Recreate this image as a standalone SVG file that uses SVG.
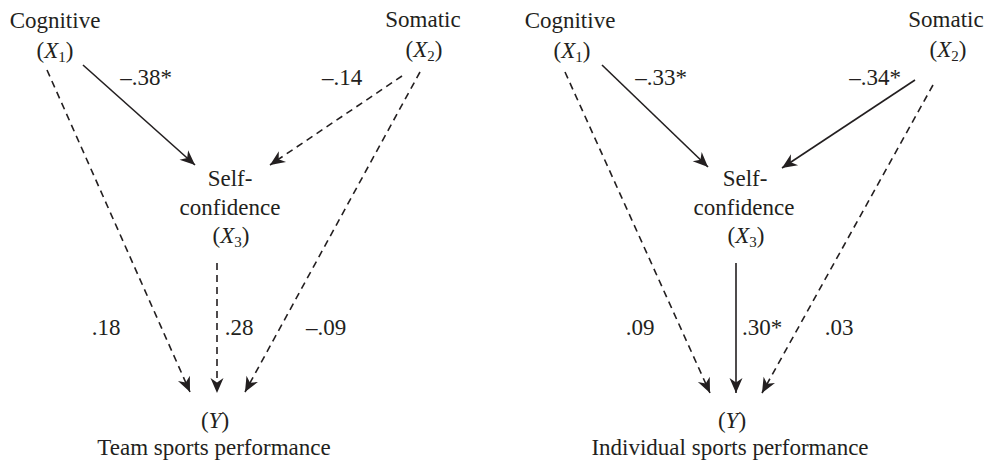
<svg xmlns="http://www.w3.org/2000/svg" width="992" height="465" viewBox="0 0 992 465">
<style>
text{font-family:'Liberation Serif','Times New Roman',Times,serif;font-size:23px;fill:#231f20;text-anchor:middle}
.i{font-style:italic}
.s{font-size:15px}
.ln{stroke:#231f20;stroke-width:1.6;fill:none}
.d{stroke-dasharray:7 5}
</style>
<defs>
<marker id="ah" markerUnits="userSpaceOnUse" markerWidth="20" markerHeight="16" viewBox="-16 -8 18 16" refX="0" refY="0" orient="auto">
<path d="M0,0 L-15,-6.5 L-10.5,0 L-15,6.5 Z" fill="#231f20"/>
</marker>
</defs>
<rect width="992" height="465" fill="#fff"/>
<g id="connectors">
<line class="ln" x1="83" y1="65" x2="195" y2="165" marker-end="url(#ah)"/>
<line class="ln d" x1="402" y1="76" x2="270" y2="165" marker-end="url(#ah)"/>
<line class="ln d" x1="47" y1="70" x2="190" y2="392" marker-end="url(#ah)"/>
<line class="ln d" x1="420" y1="72" x2="245" y2="392" marker-end="url(#ah)"/>
<line class="ln d" x1="217" y1="263" x2="217" y2="393" marker-end="url(#ah)"/>
<line class="ln" x1="602" y1="65" x2="708" y2="167" marker-end="url(#ah)"/>
<line class="ln" x1="915" y1="80" x2="782" y2="168" marker-end="url(#ah)"/>
<line class="ln d" x1="565" y1="72" x2="710" y2="393" marker-end="url(#ah)"/>
<line class="ln d" x1="933" y1="85" x2="762" y2="393" marker-end="url(#ah)"/>
<line class="ln" x1="736" y1="263" x2="736" y2="393" marker-end="url(#ah)"/>
</g>
<g id="labels">
<text x="146" y="85">–.38*</text>
<text x="342" y="85">–.14</text>
<text x="106" y="335">.18</text>
<text x="239" y="335">.28</text>
<text x="326" y="335">–.09</text>
<text x="661" y="85">–.33*</text>
<text x="875" y="85">–.34*</text>
<text x="640" y="335">.09</text>
<text x="762" y="335">.30*</text>
<text x="839" y="335">.03</text>
</g>
<g id="L-cognitive">
<text x="55" y="28">Cognitive</text>
<text x="55" y="58">(<tspan class="i">X</tspan><tspan class="s" dy="4">1</tspan><tspan dy="-4">)</tspan></text>
</g>
<g id="L-somatic">
<text x="423" y="27">Somatic</text>
<text x="424" y="57">(<tspan class="i">X</tspan><tspan class="s" dy="4">2</tspan><tspan dy="-4">)</tspan></text>
</g>
<g id="L-selfconfidence">
<text x="230" y="186">Self-</text>
<text x="230" y="215">confidence</text>
<text x="231" y="243">(<tspan class="i">X</tspan><tspan class="s" dy="4">3</tspan><tspan dy="-4">)</tspan></text>
</g>
<g id="L-Y">
<text x="215" y="428">(<tspan class="i">Y</tspan>)</text>
<text x="214" y="455">Team sports performance</text>
</g>
<g id="R-cognitive">
<text x="570" y="28">Cognitive</text>
<text x="572" y="58">(<tspan class="i">X</tspan><tspan class="s" dy="4">1</tspan><tspan dy="-4">)</tspan></text>
</g>
<g id="R-somatic">
<text x="946" y="27">Somatic</text>
<text x="948" y="57">(<tspan class="i">X</tspan><tspan class="s" dy="4">2</tspan><tspan dy="-4">)</tspan></text>
</g>
<g id="R-selfconfidence">
<text x="745" y="186">Self-</text>
<text x="744" y="215">confidence</text>
<text x="746" y="243">(<tspan class="i">X</tspan><tspan class="s" dy="4">3</tspan><tspan dy="-4">)</tspan></text>
</g>
<g id="R-Y">
<text x="732" y="428">(<tspan class="i">Y</tspan>)</text>
<text x="730" y="455">Individual sports performance</text>
</g>
</svg>
